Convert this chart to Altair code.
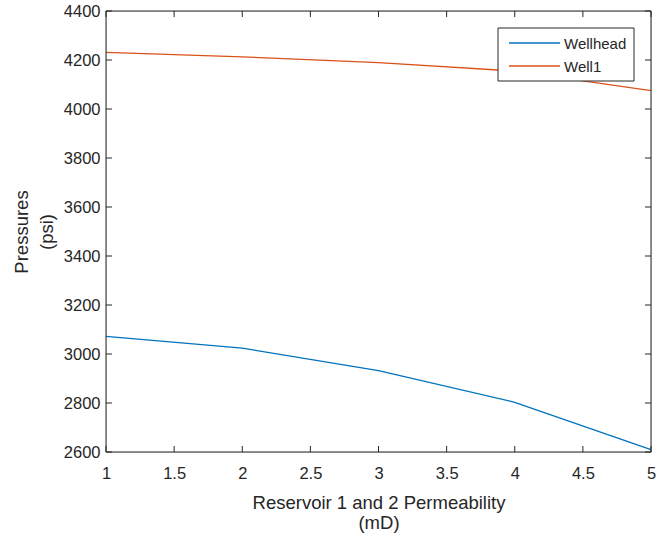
import altair as alt
import pandas as pd

# Reservoir permeability (mD) and the resulting pressures (psi)
permeability = [1, 2, 3, 4, 5]
wellhead = [3072, 3024, 2932, 2803, 2610]
well1 = [4231, 4213, 4189, 4155, 4075]
series_names = ["Wellhead", "Well1"]
series_colors = ["#0072BD", "#D95319"]

x_ticks = [1, 1.5, 2, 2.5, 3, 3.5, 4, 4.5, 5]
y_ticks = [2600, 2800, 3000, 3200, 3400, 3600, 3800, 4000, 4200, 4400]

W, H = 545, 441
TICK = 6
INK = "#262626"
FONT = "Liberation Sans"

df = pd.DataFrame({
    "k": permeability * 2,
    "p": wellhead + well1,
    "series": ["Wellhead"] * len(wellhead) + ["Well1"] * len(well1),
})
xt = pd.DataFrame({"k": x_ticks})
yt = pd.DataFrame({"p": y_ticks})

xs = alt.Scale(domain=[1, 5], nice=False, zero=False)
ys = alt.Scale(domain=[2600, 4400], nice=False, zero=False)

text_style = dict(
    labelFont=FONT, labelFontSize=16.5, labelColor=INK, labelFlush=False,
    titleFont=FONT, titleFontSize=18.5, titleColor=INK, titleFontWeight="normal",
)
x_axis = alt.Axis(
    values=x_ticks, format="~g", ticks=False, tickSize=0, domain=False, grid=False,
    labelPadding=13, title=["Reservoir 1 and 2 Permeability", "(mD)"],
    titlePadding=12, titleLineHeight=20, **text_style)
y_axis = alt.Axis(
    values=y_ticks, format="d", ticks=False, tickSize=0, domain=False, grid=False,
    labelPadding=6, title=["Pressures", "(psi)"], titlePadding=7,
    titleLineHeight=25, **text_style)

X = alt.X("k:Q", scale=xs, axis=x_axis)
Y = alt.Y("p:Q", scale=ys, axis=y_axis)

lines = alt.Chart(df).mark_line(strokeWidth=1.3).encode(
    x=X, y=Y,
    color=alt.Color("series:N", sort=series_names,
                    scale=alt.Scale(domain=series_names, range=series_colors),
                    legend=None),
)

# inward tick marks on all four sides of the box
def xticks(pos, pos2):
    return alt.Chart(xt).mark_rule(color=INK).encode(
        x=X, y=alt.value(pos), y2=alt.value(pos2))

def yticks(pos, pos2):
    return alt.Chart(yt).mark_rule(color=INK).encode(
        y=Y, x=alt.value(pos), x2=alt.value(pos2))

tick_layers = [xticks(H, H - TICK), xticks(0, TICK),
               yticks(0, TICK), yticks(W, W - TICK)]

# axes box
box = alt.Chart(pd.DataFrame({"k": [0]})).mark_rect(
    fill=None, stroke=INK, strokeWidth=1
).encode(x=alt.value(0), x2=alt.value(W), y=alt.value(0), y2=alt.value(H))

# legend box in the upper-right corner
LX, LY, LW, LH = 392, 17, 136, 53
legend_layers = [
    alt.Chart(pd.DataFrame({"k": [0]})).mark_rect(
        fill="white", stroke=INK, strokeWidth=1
    ).encode(x=alt.value(LX), x2=alt.value(LX + LW),
             y=alt.value(LY), y2=alt.value(LY + LH))
]
for i, (name, col) in enumerate(zip(series_names, series_colors)):
    yy = LY + 15 + i * 23
    legend_layers.append(
        alt.Chart(pd.DataFrame({"series": [name]})).mark_rule(
            color=col, strokeWidth=1.3
        ).encode(x=alt.value(LX + 11), x2=alt.value(LX + 62), y=alt.value(yy))
    )
    legend_layers.append(
        alt.Chart(pd.DataFrame({"series": [name]})).mark_text(
            align="left", baseline="middle", font=FONT, fontSize=15, color=INK
        ).encode(text="series:N", x=alt.value(LX + 66), y=alt.value(yy + 1))
    )

chart = alt.layer(lines, *tick_layers, box, *legend_layers).properties(
    width=W, height=H,
    autosize=alt.AutoSizeParams(type="none"),
    padding={"left": 106, "top": 11, "right": 16, "bottom": 90},
).configure_view(
    stroke=None
).configure(background="white")

chart.save("out.html", embed_options={"renderer": "svg", "actions": False})
